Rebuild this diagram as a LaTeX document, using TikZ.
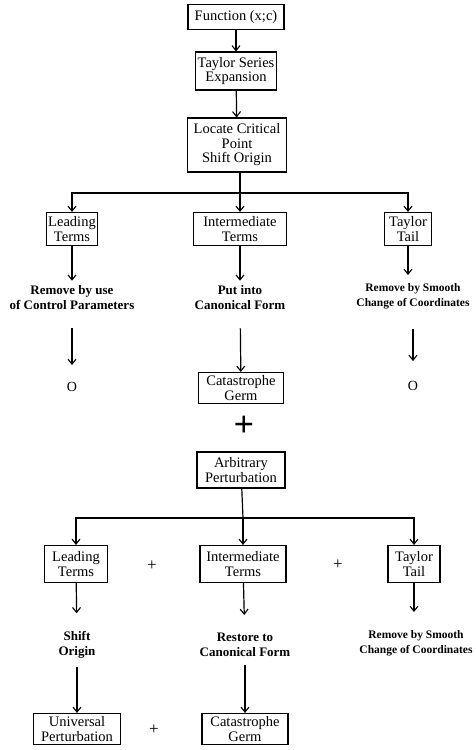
\documentclass[tikz,border=0pt]{standalone}
\usepackage{fontspec}
\setmainfont{Liberation Serif}
\usetikzlibrary{arrows.meta}
\begin{document}
\begin{tikzpicture}[x=1pt,y=-1pt,
  box/.style={draw,line width=1.1pt,align=center,inner xsep=2pt,inner ysep=1pt,font=\fontsize{14.5}{14.5}\selectfont},
  lab/.style={align=center,inner sep=0pt,font=\bfseries\fontsize{13}{15}\selectfont},
  slab/.style={align=center,inner sep=0pt,font=\bfseries\fontsize{11.5}{15}\selectfont},
  zero/.style={inner sep=0pt,font=\fontsize{14}{14}\selectfont},
  arr/.style={line width=1.2pt,-{Straight Barb[length=5pt,width=8pt,line width=1.1pt]}},
  ln/.style={line width=1.2pt},
  plus/.style={inner sep=0pt,font=\fontsize{17}{17}\selectfont},
  bigplus/.style={inner sep=0pt,font=\bfseries\fontsize{36}{36}\selectfont}]
\useasboundingbox (0,0) rectangle (476,750);

% top column
\node[box,minimum width=96pt,minimum height=25pt] (fun) at (236,17) {Function (x;c)};
\node[box,minimum width=80pt,minimum height=38pt] (tse) at (236,71) {Taylor Series\\Expansion};
\node[box,minimum width=99pt,minimum height=54pt] (loc) at (237,145) {Locate Critical\\Point\\Shift Origin};
\coordinate (s1) at (240,193);

% first row
\node[box,minimum width=51pt,minimum height=33pt] (lead1) at (72,229) {Leading\\Terms};
\node[box,minimum width=93pt,minimum height=33pt] (inter1) at (240,229) {Intermediate\\Terms};
\node[box,minimum width=47pt,minimum height=33pt] (tail1) at (408,229) {Taylor\\Tail};

\node[lab] (rem1) at (72,298) {Remove by use\\of Control Parameters};
\node[lab] (put1) at (240,298) {Put into\\Canonical Form};
\node[slab] (smo1) at (413,296) {Remove by Smooth\\Change of Coordinates};

\node[zero] (z1) at (72,387) {O};
\node[zero] (z2) at (413,386) {O};
\node[box,minimum width=85pt,minimum height=31pt] (cg1) at (241,388) {Catastrophe\\Germ};

\node[bigplus] (bp) at (244,426) {+};

\node[box,minimum width=88pt,minimum height=36pt] (ap) at (241,470) {Arbitrary\\Perturbation};
\coordinate (s2) at (243,518);

% second row
\node[box,minimum width=63pt,minimum height=37pt] (lead2) at (76,564) {Leading\\Terms};
\node[plus] (p1) at (152,566) {+};
\node[box,minimum width=86pt,minimum height=37pt] (inter2) at (243,564) {Intermediate\\Terms};
\node[plus] (p2) at (338,565) {+};
\node[box,minimum width=52pt,minimum height=37pt] (tail2) at (414,564) {Taylor\\Tail};

\node[lab] (shift) at (77,645) {Shift\\Origin};
\node[lab] (rest) at (245,645) {Restore to\\Canonical Form};
\node[slab] (smo2) at (416,643) {Remove by Smooth\\Change of Coordinates};

\node[box,minimum width=87pt,minimum height=31pt] (univ) at (77,729) {Universal\\Perturbation};
\node[plus] (p3) at (154,730) {+};
\node[box,minimum width=86pt,minimum height=31pt] (cg2) at (245,729) {Catastrophe\\Germ};

% connectors
\draw[arr] (fun) -- (tse);
\draw[arr] (tse) -- (loc);
\draw[ln] (loc.south -| s1) -- (s1);
\draw[arr] (s1) -| (lead1);
\draw[arr] (s1) -| (tail1);
\draw[arr] (s1) -- (inter1);

\draw[arr,shorten >=5pt] (lead1) -- (rem1);
\draw[arr,shorten >=5pt] (inter1) -- (put1);
\draw[arr,shorten >=8pt] (tail1.south) -- (tail1.south |- smo1.north);

\draw[arr,shorten <=18pt,shorten >=17pt] (rem1) -- (z1);
\draw[arr,shorten <=18pt] (put1) -- (cg1);
\draw[arr,shorten <=20pt,shorten >=20pt] (smo1.south -| z2) -- (z2);

\draw[ln] (ap) -- (s2);
\draw[arr] (s2) -| (lead2);
\draw[arr] (s2) -| (tail2);
\draw[arr] (s2) -- (inter2);

\draw[arr,shorten >=18pt] (lead2) -- (shift);
\draw[arr,shorten >=18pt] (inter2) -- (rest);
\draw[arr,shorten >=18pt] (tail2) -- (tail2 |- smo2.north);

\draw[arr,shorten <=8pt] (shift) -- (univ);
\draw[arr,shorten <=8pt] (rest) -- (cg2);
\end{tikzpicture}
\end{document}
